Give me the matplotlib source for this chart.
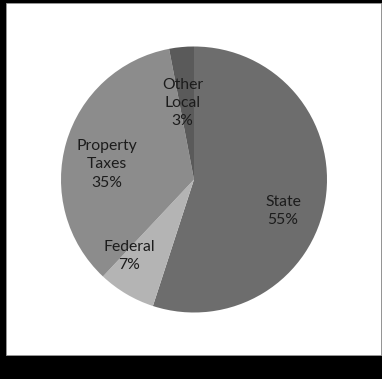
import matplotlib
matplotlib.use("Agg")
import matplotlib.pyplot as plt
from matplotlib.patches import Rectangle

# Revenue sources, in Excel pie order (clockwise from 12 o'clock)
categories = ["State", "Federal", "Property\nTaxes", "Other\nLocal"]
shares = [55, 7, 35, 3]
colors = ["#6d6d6d", "#b4b4b4", "#8c8c8c", "#5a5a5a"]

# where each label sits, in pie units (center 0,0, radius 1)
label_xy = [(0.67, -0.235), (-0.49, -0.575), (-0.655, 0.115), (-0.085, 0.575)]

W, H = 382, 379
fig = plt.figure(figsize=(W / 100, H / 100), dpi=100, facecolor="black")

# white chart area inside the black frame
bg = fig.add_axes([0, 0, 1, 1])
bg.set_xlim(0, W)
bg.set_ylim(H, 0)
bg.axis("off")
bg.add_patch(Rectangle((6, 3), 375, 352, facecolor="white", edgecolor="#9a9a9a", lw=0.6))

# pie: center (194, 179.5) px, radius 133 px
cx, cy, r = 194, 179.5, 133
ax = fig.add_axes([(cx - r) / W, (H - cy - r) / H, 2 * r / W, 2 * r / H])
ax.pie(shares, colors=colors, startangle=90, counterclock=False,
       wedgeprops=dict(linewidth=0), radius=1)
ax.set_xlim(-1, 1)
ax.set_ylim(-1, 1)
ax.set_aspect("auto")

for name, pct, (x, y) in zip(categories, shares, label_xy):
    ax.text(x, y, f"{name}\n{pct}%", ha="center", va="center",
            fontsize=11.3, family="Lato", color="#1c1c1c", linespacing=1.4)

fig.savefig("out.png", dpi=100, facecolor="black")
